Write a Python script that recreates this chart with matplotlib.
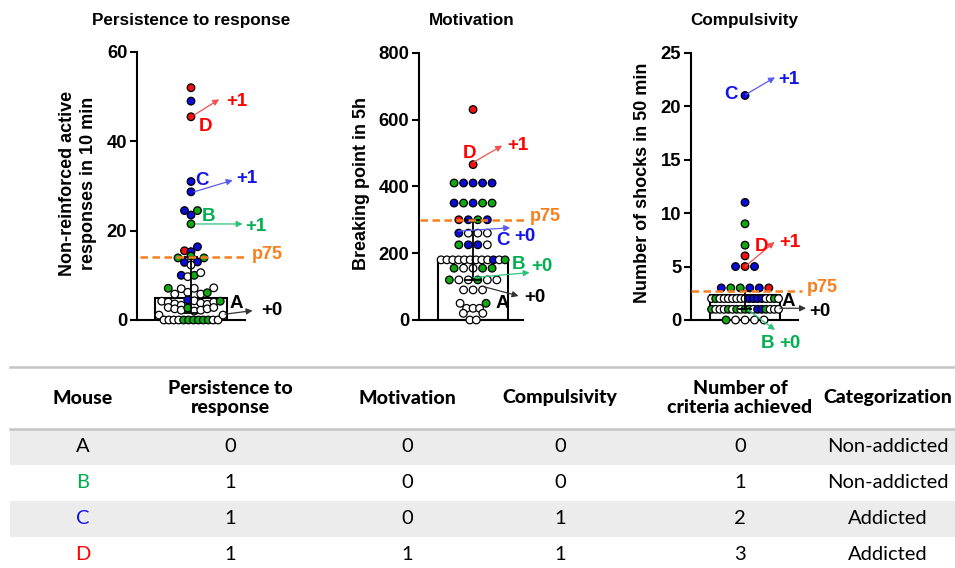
import numpy as np
import matplotlib
matplotlib.use('Agg')
import matplotlib.pyplot as plt
from matplotlib.patches import Rectangle

W, H = 955, 568
DPI = 100

plt.rcParams['font.family'] = ['Liberation Sans', 'DejaVu Sans']

DOT = {'w': '#ffffff', 'g': '#12a812', 'b': '#0c0cd8', 'r': '#f01010'}
TXT = {'A': '#000000', 'B': '#00b050', 'C': '#1414e6', 'D': '#ff0000'}
ARR = {'A': '#333333', 'B': '#2ec27e', 'C': '#5a5af0', 'D': '#f05050'}
ORANGE = '#f77f1e'

# ---- panel data ----
pers_vals = [52, 49, 45.5, 31, 28.7,
             24.5, 23.5, 24.5, 21.5,
             15.5, 15.3, 16.4,
             13.9, 12.9, 14.3, 13.0, 13.9,
             12.3,
             10.0, 9.7, 10.0, 10.6,
             7.1, 5.8, 7.0, 6.2, 7.1, 5.8, 6.1, 7.2,
             4.2, 4.0, 3.6, 3.3, 4.5, 4.3, 3.8, 3.5, 4.0, 4.2,
             2.8, 2.5, 2.2, 2.7, 2.0, 2.2, 2.5, 2.8,
             1.1, 0, 0, 0, 0, 0, 0, 0, 0, 0, 0, 0, 0, 1.1]
pers_cols = ['r', 'b', 'r', 'b', 'b',
             'b', 'b', 'g', 'g',
             'r', 'b', 'b',
             'g', 'b', 'g', 'b', 'g',
             'w',
             'b', 'w', 'g', 'w',
             'g', 'w', 'w', 'w', 'w', 'w', 'g', 'w',
             'w', 'w', 'w', 'w', 'b', 'w', 'w', 'w', 'w', 'g',
             'w', 'w', 'w', 'g', 'w', 'w', 'w', 'w',
             'w', 'w', 'w', 'w', 'w', 'g', 'g', 'g', 'g', 'g', 'g', 'w', 'w', 'w']

mot_vals = [630, 465,
            410, 410, 410, 410, 410,
            350, 350, 350, 350, 350,
            300, 300, 300, 300,
            260, 260, 260, 260,
            225, 225, 225, 225,
            180, 180, 180, 180, 180, 180, 180, 180, 180, 180, 180, 180,
            155, 155, 155, 155, 155,
            120, 120, 120, 120, 120, 120,
            90, 90, 90,
            50, 35, 35, 35, 50,
            20, 0, 0, 20]
mot_cols = ['r', 'r',
            'g', 'b', 'b', 'b', 'b',
            'b', 'g', 'b', 'g', 'g',
            'r', 'b', 'g', 'b',
            'b', 'w', 'w', 'w',
            'g', 'b', 'b', 'w',
            'w', 'w', 'w', 'w', 'w', 'w', 'w', 'w', 'w', 'b', 'w', 'g',
            'g', 'w', 'w', 'g', 'g',
            'g', 'w', 'w', 'g', 'w', 'w',
            'w', 'w', 'w',
            'w', 'w', 'w', 'w', 'g',
            'w', 'w', 'w', 'w']

comp_vals = [21, 11, 9, 7, 6,
             5, 5, 5,
             3, 3, 3, 3, 3, 3,
             2, 2, 2, 2, 2, 2, 2, 2, 2, 2, 2, 2, 2, 2, 2, 2, 2,
             1, 1, 1, 1, 1, 1, 1, 1, 1, 1, 1, 1, 1, 1, 1, 1, 1,
             0, 0, 0, 0, 0]
comp_cols = ['b', 'b', 'g', 'g', 'r',
             'b', 'r', 'b',
             'b', 'g', 'g', 'b', 'b', 'r',
             'w', 'g', 'w', 'w', 'w', 'w', 'w', 'w', 'w', 'b', 'b', 'b', 'b', 'w', 'w', 'g', 'w',
             'g', 'w', 'w', 'w', 'g', 'w', 'g', 'w', 'g', 'g', 'w', 'b', 'b', 'g', 'w', 'w', 'w',
             'g', 'w', 'w', 'w', 'w']

medians = [5, 180, 2.3]
q1s = [1.5, 120, 1.0]
q3s = [14, 300, 2.75]

titles = ['Persistence to response', 'Motivation', 'Compulsivity']
ylabels = ['Non-reinforced active\nresponses in 10 min', 'Breaking point in 5h', 'Number of shocks in 50 min']
ylims = [60, 800, 25]
yticks = [[0, 20, 40, 60], [0, 200, 400, 600, 800], [0, 5, 10, 15, 20, 25]]

# annotation labels per panel: mouse letter and criterion gain
mice = ['A', 'B', 'C', 'D']
gains = [['+0', '+1', '+1', '+1'],
         ['+0', '+0', '+0', '+1'],
         ['+0', '+0', '+1', '+1']]

# table
tbl_header = ['Mouse', 'Persistence to\nresponse', 'Motivation', 'Compulsivity',
              'Number of\ncriteria achieved', 'Categorization']
tbl_persistence = [0, 1, 1, 1]
tbl_motivation = [0, 0, 0, 1]
tbl_compulsivity = [0, 0, 1, 1]
tbl_criteria = [0, 1, 2, 3]
tbl_category = ['Non-addicted', 'Non-addicted', 'Addicted', 'Addicted']

# ---- layout (pixels) ----
# (left spine x, x-axis right end, y of 0, y of top)
boxes = [(137, 245, 320, 52), (419, 523, 320, 52.7), (691, 798, 320, 52.7)]
centers = [0.5, 0.52, 0.505]
bar_w = [0.66, 0.68, 0.65]
swarm_maxw = [64, 64, 67]
cap_size = [5, 6, 5]
p75_x = [(0.03, 1.02), (0.01, 1.04), (0.0, 1.035)]
p75_txt = [1.06, 1.07, 1.08]

# arrow start/end, letter pos, gain text pos  (x in axes width, y in data)
annots = [
    {'A': ((0.815, 1.3), (1.07, 2.1), (0.923, 3.7), (1.15, 2.1)),
     'B': ((0.552, 21.5), (0.978, 21.5), (0.66, 23.1), (1.0, 20.9)),
     'C': ((0.53, 28.7), (0.886, 31.3), (0.60, 31.3), (0.92, 31.6)),
     'D': ((0.53, 45.9), (0.761, 49.4), (0.63, 43.4), (0.83, 49.0))},
    {'A': ((0.62, 100), (0.957, 72), (0.80, 50), (1.015, 67)),
     'B': ((0.524, 127), (1.064, 142), (0.958, 165), (1.077, 160)),
     'C': ((0.38, 266), (0.877, 276), (0.81, 237), (0.916, 249)),
     'D': ((0.524, 472), (0.80, 522), (0.49, 499), (0.846, 522))},
    {'A': ((0.83, 1.1), (1.075, 1.1), (0.91, 1.7), (1.105, 0.78)),
     'B': ((0.535, 0.94), (0.785, -0.94), (0.717, -2.2), (0.825, -2.2)),
     'C': ((0.514, 21.1), (0.785, 22.7), (0.374, 21.1), (0.816, 22.5)),
     'D': ((0.505, 5.0), (0.78, 7.3), (0.66, 6.86), (0.825, 7.27))},
]


def swarm_x(vals, center, ax_w, px_per_y, maxw, thresh=7.0, step=9.5, mix_step=6.5):
    vals = np.asarray(vals, float)
    order = sorted(range(len(vals)), key=lambda i: -vals[i])
    groups = []
    for i in order:
        if groups and (vals[groups[-1][0]] - vals[i]) * px_per_y < thresh:
            groups[-1].append(i)
        else:
            groups.append([i])
    xs = np.zeros(len(vals))
    for g in groups:
        g = sorted(g)
        n = len(g)
        st = step if len(set(vals[g])) == 1 else mix_step
        if n > 1:
            st = min(st, maxw / (n - 1))
        for k, idx in enumerate(g):
            xs[idx] = center + (k - (n - 1) / 2) * st / ax_w
    return xs


fig = plt.figure(figsize=(W / DPI, H / DPI), dpi=DPI)

data = [(pers_vals, pers_cols), (mot_vals, mot_cols), (comp_vals, comp_cols)]
for p in range(3):
    x0, x1, yb, yt = boxes[p]
    ax = fig.add_axes([x0 / W, 1 - yb / H, (x1 - x0) / W, (yb - yt) / H])
    ax.set_xlim(0, 1)
    ax.set_ylim(0, ylims[p])
    for s in ['top', 'right']:
        ax.spines[s].set_visible(False)
    for s in ['left', 'bottom']:
        ax.spines[s].set_linewidth(1.5)
    ax.set_xticks([])
    ax.set_yticks(yticks[p])
    ax.tick_params(axis='y', direction='out', length=5, width=1.5, pad=2)
    for lab in ax.get_yticklabels():
        lab.set_fontsize(13.3)
        lab.set_fontweight('bold')
    ax.patch.set_alpha(0)

    vals, cols = data[p]
    ax_w = x1 - x0
    px_per_y = (yb - yt) / ylims[p]
    xs = swarm_x(vals, centers[p], ax_w, px_per_y, swarm_maxw[p])

    ax.bar(centers[p], medians[p], width=bar_w[p], color='white', edgecolor='black',
           linewidth=1.5, zorder=1)
    ax.scatter(xs, vals, s=30, c=[DOT[c] for c in cols], edgecolors='black',
               linewidths=0.9, zorder=3, clip_on=False)
    ax.errorbar(centers[p], medians[p],
                yerr=[[medians[p] - q1s[p]], [q3s[p] - medians[p]]],
                fmt='none', ecolor='black', elinewidth=1.3, capsize=cap_size[p],
                capthick=1.3, zorder=4)
    ax.plot(p75_x[p], [q3s[p], q3s[p]], color=ORANGE, lw=1.8, dashes=(3, 1.8),
            zorder=5, clip_on=False)
    ax.text(p75_txt[p], q3s[p] + ylims[p] * 0.012, 'p75',
            color=ORANGE, fontsize=13, fontweight='bold', ha='left', va='center')

    for m, g in zip(mice, gains[p]):
        st, en, lpos, gpos = annots[p][m]
        ax.annotate('', xy=en, xytext=st,
                    arrowprops=dict(arrowstyle='-|>', color=ARR[m], lw=0.9,
                                    mutation_scale=9, shrinkA=0, shrinkB=0),
                    annotation_clip=False, zorder=6)
        ax.text(lpos[0], lpos[1], m, color=TXT[m], fontsize=13.5, fontweight='bold',
                ha='center', va='center', zorder=6)
        ax.text(gpos[0], gpos[1], g, color=TXT[m], fontsize=13.5, fontweight='bold',
                ha='left', va='center', zorder=6)

# overlay in pixel coordinates for titles, y labels and table
ov = fig.add_axes([0, 0, 1, 1])
ov.set_xlim(0, W)
ov.set_ylim(H, 0)
ov.axis('off')

title_x = [191, 472, 744]
for t, tx in zip(titles, title_x):
    ov.text(tx, 20.5, t, fontsize=12.3, fontweight='bold', ha='center', va='center')

ylab_x = [78, 361, 642]
for lab, lx in zip(ylabels, ylab_x):
    ov.text(lx, 183, lab, fontsize=13, fontweight='bold', ha='center', va='center',
            rotation=90, linespacing=1.25)

# table
ov.add_patch(Rectangle((10, 429), W - 10, 36, color='#ececec', lw=0))
ov.add_patch(Rectangle((10, 501), W - 10, 36, color='#ececec', lw=0))
ov.plot([10, W], [367, 367], color='#c4c4c4', lw=1.8)
ov.plot([10, W], [429, 429], color='#c4c4c4', lw=1.8)

col_x = [83, 230, 407, 560, 740, 888]
row_y = [447, 483, 519, 555]
tfont = ['Lato', 'DejaVu Sans']
for h, cx in zip(tbl_header, col_x):
    ov.text(cx, 398, h, fontsize=14, fontweight=900, family=tfont,
            ha='center', va='center', linespacing=1.1)
for i in range(4):
    row = [mice[i], tbl_persistence[i], tbl_motivation[i], tbl_compulsivity[i],
           tbl_criteria[i], tbl_category[i]]
    for j, (v, cx) in enumerate(zip(row, col_x)):
        ov.text(cx, row_y[i], str(v), fontsize=14.5, family=tfont,
                color=TXT[mice[i]] if j == 0 else 'black', ha='center', va='center')

fig.savefig('out.png', dpi=DPI)
